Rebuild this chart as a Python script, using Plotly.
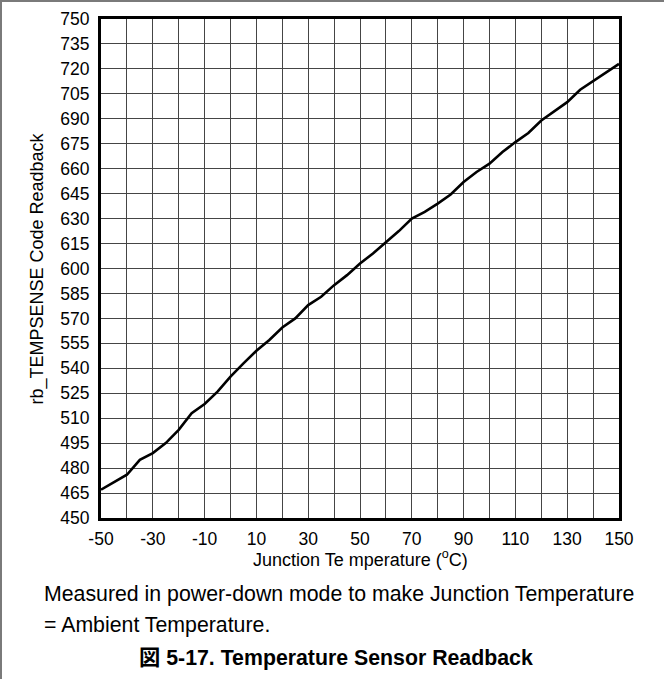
import plotly.graph_objects as go

# Junction temperature (°C) and the rb_TEMPSENSE code read back at each point
temperature_c = [-50, -45, -40, -35, -30, -25, -20, -15, -10, -5, 0, 5, 10, 15, 20,
                 25, 30, 35, 40, 45, 50, 55, 60, 65, 70, 75, 80, 85, 90, 95, 100,
                 105, 110, 115, 120, 125, 130, 135, 140, 145, 150]
code_readback = [467, 471.5, 476, 485, 489, 495, 503, 513, 518.5, 526, 535, 543, 550.5,
                 557, 564.5, 570, 578, 583, 590, 596, 603, 609, 615.5, 622.5, 630, 634,
                 639, 644.5, 652, 658, 663, 670, 676, 681.5, 689, 694.5, 700, 707.5,
                 712.5, 717.5, 723]

x_ticks = list(range(-50, 151, 20))
y_ticks = list(range(450, 751, 15))

x_title = "Junction Te mperature (<sup>o</sup>C)"
y_title = "rb_TEMPSENSE Code Readback"
note_1 = "Measured in power-down mode to make Junction Temperature"
note_2 = "= Ambient Temperature."
caption = "<b>図 5-17. Temperature Sensor Readback</b>"

FONT = "Liberation Sans, Arial, Noto Sans CJK JP, sans-serif"

# plot-area geometry in pixels, used to place the text outside it
W, H = 664, 679
L, R, T, B = 101, 619, 19, 518


def px_x(px):
    return (px - L) / (R - L)


def px_y(py):
    return (B - py) / (B - T)


fig = go.Figure()
fig.add_trace(go.Scatter(
    x=temperature_c, y=code_readback, mode="lines",
    line=dict(color="black", width=2.6, shape="linear"),
    hoverinfo="skip", showlegend=False,
))

grid = "#454545"
tick_font = dict(family=FONT, size=17.5, color="black")
fig.update_xaxes(
    range=[-50, 150], tickmode="array", tickvals=x_ticks,
    ticktext=[str(v) for v in x_ticks],
    showgrid=True, gridcolor=grid, gridwidth=1,
    minor=dict(dtick=10, tick0=-50, showgrid=True, gridcolor=grid, gridwidth=1),
    showline=True, linecolor="black", linewidth=3, mirror=True,
    ticks="", zeroline=False, automargin=False,
    tickfont=tick_font,
    ticklabelstandoff=3,
)
fig.update_yaxes(
    range=[450, 750], tickmode="array", tickvals=y_ticks,
    ticktext=[str(v) for v in y_ticks],
    showgrid=True, gridcolor=grid, gridwidth=1,
    showline=True, linecolor="black", linewidth=3, mirror=True,
    ticks="", zeroline=False, automargin=False,
    tickfont=tick_font,
    ticklabelstandoff=5,
)

annotations = [
    dict(text=x_title, x=0.5, y=px_y(558), xref="paper", yref="paper",
         xanchor="center", yanchor="middle", showarrow=False,
         font=dict(family=FONT, size=18, color="black")),
    dict(text=y_title, x=px_x(37), y=0.5, xref="paper", yref="paper",
         xanchor="center", yanchor="middle", showarrow=False, textangle=-90,
         font=dict(family=FONT, size=18, color="black")),
    dict(text=note_1, x=px_x(42), y=px_y(594), xref="paper", yref="paper",
         xanchor="left", yanchor="middle", showarrow=False,
         font=dict(family=FONT, size=21.3, color="black")),
    dict(text=note_2, x=px_x(42), y=px_y(625), xref="paper", yref="paper",
         xanchor="left", yanchor="middle", showarrow=False,
         font=dict(family=FONT, size=21.3, color="black")),
    dict(text=caption, x=px_x(336), y=px_y(658), xref="paper", yref="paper",
         xanchor="center", yanchor="middle", showarrow=False,
         font=dict(family=FONT, size=21.3, color="black")),
]

# thin grey frame along the top and left of the page
shapes = [
    dict(type="line", xref="paper", yref="paper", x0=px_x(0), x1=px_x(W),
         y0=px_y(1), y1=px_y(1), line=dict(color="#7a7a7a", width=2)),
    dict(type="line", xref="paper", yref="paper", x0=px_x(1), x1=px_x(1),
         y0=px_y(0), y1=px_y(H), line=dict(color="#7a7a7a", width=2)),
]

fig.update_layout(
    width=W, height=H,
    margin=dict(l=L, r=W - R, t=T, b=H - B, pad=0, autoexpand=False),
    paper_bgcolor="white", plot_bgcolor="white",
    annotations=annotations, shapes=shapes,
    font=dict(family=FONT, color="black"),
)

fig.write_html("out.html")
